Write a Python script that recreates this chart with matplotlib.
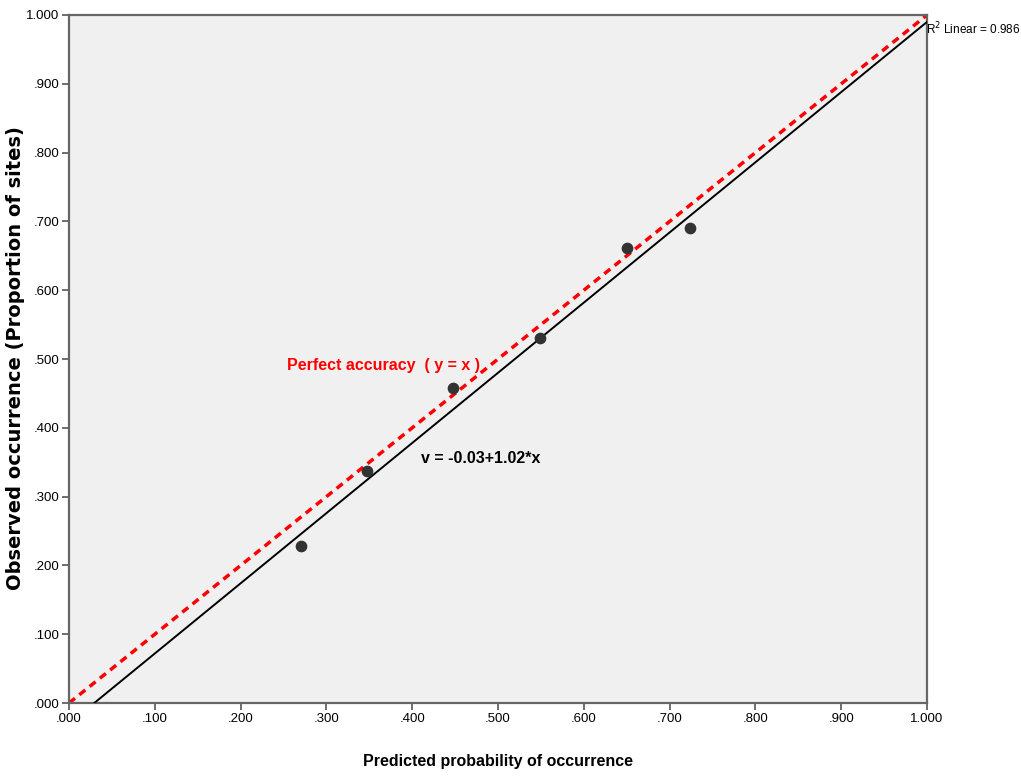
import matplotlib
matplotlib.use('Agg')
import matplotlib.pyplot as plt
import numpy as np

# observed vs predicted
predicted = [0.270, 0.347, 0.448, 0.549, 0.650, 0.724]
observed = [0.228, 0.337, 0.458, 0.531, 0.661, 0.690]
intercept = -0.03
slope = 1.02
r2 = 0.986
ticks = [0.0, 0.1, 0.2, 0.3, 0.4, 0.5, 0.6, 0.7, 0.8, 0.9, 1.0]
tick_labels = ['.000', '.100', '.200', '.300', '.400', '.500', '.600', '.700', '.800', '.900', '1.000']

narrow = ['Liberation Sans Narrow', 'Liberation Sans', 'DejaVu Sans']

fig = plt.figure(figsize=(10.21, 7.77), dpi=100)
ax = fig.add_axes([0.0676, 0.0952, 0.8404, 0.8855])
ax.set_facecolor('#f0f0f0')

# perfect accuracy line
ax.plot([0, 1], [0, 1], color='#ff0000', lw=2.5, ls=(0, (2.2, 1.6)), zorder=2)

# fitted line
x0 = -intercept / slope
xs = np.array([x0, 1.0])
ax.plot(xs, intercept + slope * xs, color='black', lw=1.4, zorder=3)

ax.scatter(predicted, observed, s=55, color='#333333', zorder=4)

ax.text(0.254, 0.490, 'Perfect accuracy  ( y = x )', color='#ff0000', fontsize=11.5,
        fontweight='bold', family=narrow, ha='left', va='center')
ax.text(0.410, 0.355, 'v = -0.03+1.02*x', color='black', fontsize=11.5,
        fontweight='bold', family=narrow, ha='left', va='center')
ax.text(0.999, 0.98, 'R$^2$ Linear = %.3f' % r2, fontsize=8.5, family=narrow,
        ha='left', va='center', clip_on=False)

ax.set_xlim(0, 1)
ax.set_ylim(0, 1)
ax.set_xticks(ticks)
ax.set_yticks(ticks)
ax.set_xticklabels(tick_labels, family=narrow, fontsize=9.5)
ax.set_yticklabels(tick_labels, family=narrow, fontsize=9.5)
ax.tick_params(direction='out', length=5, width=1.2, color='#555555', pad=2)

for sp in ax.spines.values():
    sp.set_color('#666666')
    sp.set_linewidth(1.6)

ax.set_xlabel('Predicted probability of occurrence', fontsize=11.5, fontweight='bold',
              family=narrow, labelpad=21)
fig.text(16 / 1021, 1 - 358 / 777, 'Observed occurrence (Proportion of sites)',
         rotation=90, fontsize=14, fontweight='bold', family='DejaVu Sans',
         ha='center', va='center')

fig.savefig('out.png', dpi=100, facecolor='white')
